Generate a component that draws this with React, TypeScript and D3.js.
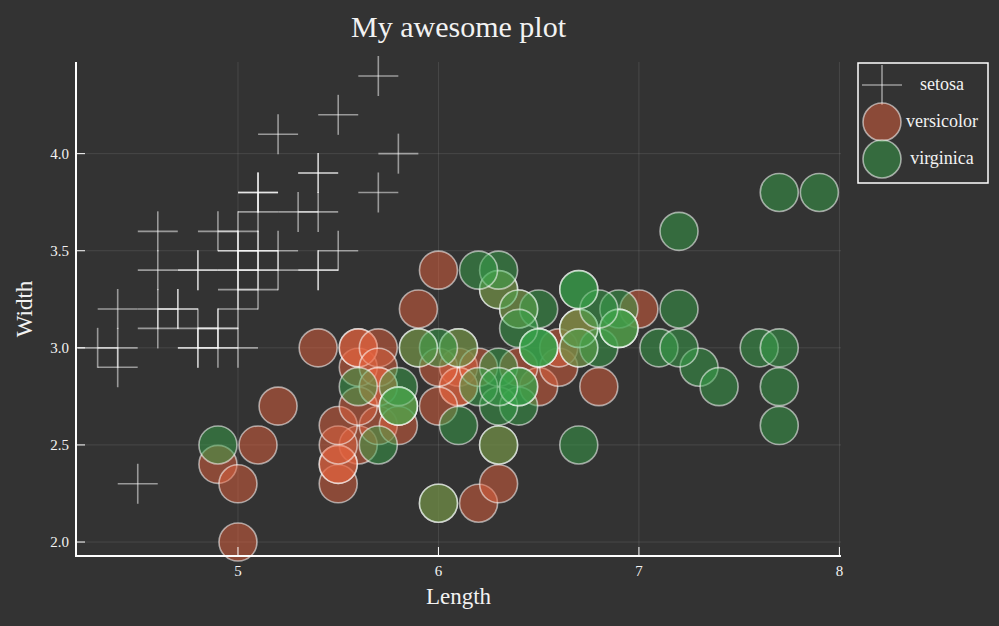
import React from 'react';
import * as d3 from 'd3';

const W = 999;
const H = 626;
const BG = '#333333';
const FONT = '"Liberation Serif", serif';

// iris: [sepal length, sepal width]
const setosa: [number, number][] = [
  [5.1, 3.5], [4.9, 3.0], [4.7, 3.2], [4.6, 3.1], [5.0, 3.6], [5.4, 3.9], [4.6, 3.4], [5.0, 3.4], [4.4, 2.9], [4.9, 3.1],
  [5.4, 3.7], [4.8, 3.4], [4.8, 3.0], [4.3, 3.0], [5.8, 4.0], [5.7, 4.4], [5.4, 3.9], [5.1, 3.5], [5.7, 3.8], [5.1, 3.8],
  [5.4, 3.4], [5.1, 3.7], [4.6, 3.6], [5.1, 3.3], [4.8, 3.4], [5.0, 3.0], [5.0, 3.4], [5.2, 3.5], [5.2, 3.4], [4.7, 3.2],
  [4.8, 3.1], [5.4, 3.4], [5.2, 4.1], [5.5, 4.2], [4.9, 3.1], [5.0, 3.2], [5.5, 3.5], [4.9, 3.6], [4.4, 3.0], [5.1, 3.4],
  [5.0, 3.5], [4.5, 2.3], [4.4, 3.2], [5.0, 3.5], [5.1, 3.8], [4.8, 3.0], [5.1, 3.8], [4.6, 3.2], [5.3, 3.7], [5.0, 3.3],
];
const versicolor: [number, number][] = [
  [7.0, 3.2], [6.4, 3.2], [6.9, 3.1], [5.5, 2.3], [6.5, 2.8], [5.7, 2.8], [6.3, 3.3], [4.9, 2.4], [6.6, 2.9], [5.2, 2.7],
  [5.0, 2.0], [5.9, 3.0], [6.0, 2.2], [6.1, 2.9], [5.6, 2.9], [6.7, 3.1], [5.6, 3.0], [5.8, 2.7], [6.2, 2.2], [5.6, 2.5],
  [5.9, 3.2], [6.1, 2.8], [6.3, 2.5], [6.1, 2.8], [6.4, 2.9], [6.6, 3.0], [6.8, 2.8], [6.7, 3.0], [6.0, 2.9], [5.7, 2.6],
  [5.5, 2.4], [5.5, 2.4], [5.8, 2.7], [6.0, 2.7], [5.4, 3.0], [6.0, 3.4], [6.7, 3.1], [6.3, 2.3], [5.6, 3.0], [5.5, 2.5],
  [5.5, 2.6], [6.1, 3.0], [5.8, 2.6], [5.0, 2.3], [5.6, 2.7], [5.7, 3.0], [5.7, 2.9], [6.2, 2.9], [5.1, 2.5], [5.7, 2.8],
];
const virginica: [number, number][] = [
  [6.3, 3.3], [5.8, 2.7], [7.1, 3.0], [6.3, 2.9], [6.5, 3.0], [7.6, 3.0], [4.9, 2.5], [7.3, 2.9], [6.7, 2.5], [7.2, 3.6],
  [6.5, 3.2], [6.4, 2.7], [6.8, 3.0], [5.7, 2.5], [5.8, 2.8], [6.4, 3.2], [6.5, 3.0], [7.7, 3.8], [7.7, 2.6], [6.0, 2.2],
  [6.9, 3.2], [5.6, 2.8], [7.7, 2.8], [6.3, 2.7], [6.7, 3.3], [7.2, 3.2], [6.2, 2.8], [6.1, 3.0], [6.4, 2.8], [7.2, 3.0],
  [7.4, 2.8], [7.9, 3.8], [6.4, 2.8], [6.3, 2.8], [6.1, 2.6], [7.7, 3.0], [6.3, 3.4], [6.4, 3.1], [6.0, 3.0], [6.9, 3.1],
  [6.7, 3.1], [6.9, 3.1], [5.8, 2.7], [6.8, 3.2], [6.7, 3.3], [6.7, 3.0], [6.3, 2.5], [6.5, 3.0], [6.2, 3.4], [5.9, 3.0],
];

const xTicks = [5, 6, 7, 8];
const yTicks = [2.0, 2.5, 3.0, 3.5, 4.0];
const seriesNames = ['setosa', 'versicolor', 'virginica'];

const plot = { left: 76, right: 841, top: 62, bottom: 556 };
const R = 19;
const CROSS = 20;
const orange = '#e3613d';
const green = '#37a349';

function Cross({ cx, cy }: { cx: number; cy: number }) {
  return (
    <g stroke="#ffffff" strokeOpacity={0.5} strokeWidth={1.6}>
      <line x1={cx - CROSS} x2={cx + CROSS} y1={cy} y2={cy} />
      <line x1={cx} x2={cx} y1={cy - CROSS} y2={cy + CROSS} />
    </g>
  );
}

function Dot({ cx, cy, fill }: { cx: number; cy: number; fill: string }) {
  return (
    <circle cx={cx} cy={cy} r={R} fill={fill} fillOpacity={0.5}
      stroke="#ffffff" strokeOpacity={0.55} strokeWidth={1.6} />
  );
}

export default function App() {
  const all = [...setosa, ...versicolor, ...virginica];
  const xe = d3.extent(all, d => d[0]) as [number, number];
  const ye = d3.extent(all, d => d[1]) as [number, number];
  const xp = (xe[1] - xe[0]) * 0.03;
  const yp = (ye[1] - ye[0]) * 0.03;
  const x = d3.scaleLinear().domain([xe[0] - xp, xe[1] + xp]).range([plot.left, plot.right]);
  const y = d3.scaleLinear().domain([ye[0] - yp, ye[1] + yp]).range([plot.bottom, plot.top]);
  const midX = (plot.left + plot.right) / 2;

  return (
    <svg width={W} height={H} style={{ position: 'absolute', left: 0, top: 0, background: BG }}
      fontFamily={FONT}>
      <rect width={W} height={H} fill={BG} />
      <text x={midX} y={37} textAnchor="middle" fontSize={30} fill="#f2f2f2">My awesome plot</text>

      {/* grid */}
      {xTicks.map(t => (
        <line key={'gx' + t} x1={x(t)} x2={x(t)} y1={plot.top} y2={plot.bottom}
          stroke="#ffffff" strokeOpacity={0.1} strokeWidth={1} />
      ))}
      {yTicks.map(t => (
        <line key={'gy' + t} x1={plot.left} x2={plot.right} y1={y(t)} y2={y(t)}
          stroke="#ffffff" strokeOpacity={0.1} strokeWidth={1} />
      ))}

      {/* series */}
      {setosa.map((d, i) => <Cross key={'s' + i} cx={x(d[0])} cy={y(d[1])} />)}
      {versicolor.map((d, i) => <Dot key={'v' + i} cx={x(d[0])} cy={y(d[1])} fill={orange} />)}
      {virginica.map((d, i) => <Dot key={'g' + i} cx={x(d[0])} cy={y(d[1])} fill={green} />)}

      {/* axes */}
      <line x1={plot.left} x2={plot.left} y1={plot.top} y2={plot.bottom + 1} stroke="#ffffff" strokeWidth={2} />
      <line x1={plot.left - 1} x2={plot.right} y1={plot.bottom} y2={plot.bottom} stroke="#ffffff" strokeWidth={2} />
      {xTicks.map(t => (
        <g key={'tx' + t}>
          <line x1={x(t)} x2={x(t)} y1={plot.bottom} y2={plot.bottom - 9} stroke="#ffffff" strokeWidth={1} />
          <text x={x(t)} y={plot.bottom + 20} textAnchor="middle" fontSize={15} fill="#f2f2f2">{t}</text>
        </g>
      ))}
      {yTicks.map(t => (
        <g key={'ty' + t}>
          <line x1={plot.left} x2={plot.left + 9} y1={y(t)} y2={y(t)} stroke="#ffffff" strokeWidth={1} />
          <text x={plot.left - 7} y={y(t) + 5} textAnchor="end" fontSize={15} fill="#f2f2f2">{t.toFixed(1)}</text>
        </g>
      ))}
      <text x={midX} y={604} textAnchor="middle" fontSize={23} fill="#f2f2f2">Length</text>
      <text transform={`translate(32,${(plot.top + plot.bottom) / 2}) rotate(-90)`} textAnchor="middle"
        fontSize={23} fill="#f2f2f2">Width</text>

      {/* legend */}
      <g>
        <rect x={858} y={63} width={130} height={120} fill={BG} stroke="#ffffff" strokeWidth={1.5} />
        {seriesNames.map((name, i) => {
          const cy = 85 + i * 37;
          return (
            <g key={name}>
              {i === 0 ? <Cross cx={882} cy={cy} /> : <Dot cx={882} cy={cy} fill={i === 1 ? orange : green} />}
              <text x={942} y={cy + 5} textAnchor="middle" fontSize={18} fill="#f2f2f2">{name}</text>
            </g>
          );
        })}
      </g>
    </svg>
  );
}
